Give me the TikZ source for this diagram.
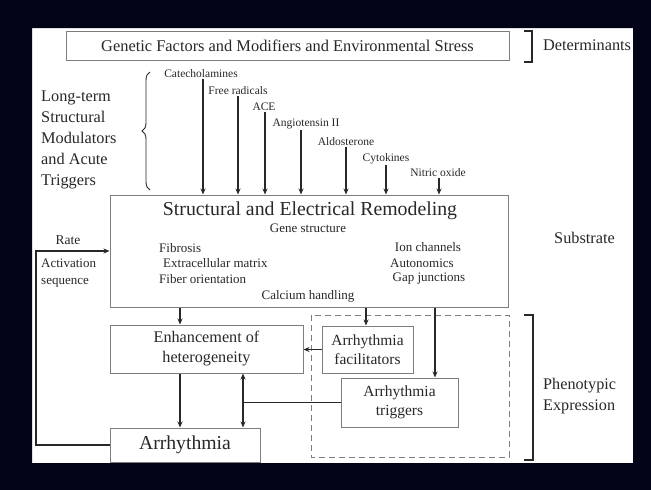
\documentclass[tikz,border=0pt]{standalone}
\usepackage{fontspec}
\setmainfont{Liberation Serif}
\usetikzlibrary{arrows.meta,decorations.pathreplacing}
\definecolor{framecol}{RGB}{2,3,22}
\definecolor{boxgray}{RGB}{125,125,125}
\definecolor{ink}{RGB}{40,40,40}
\begin{document}
\begin{tikzpicture}[x=1pt,y=-1pt,
  boxnode/.style={draw=boxgray, line width=1pt, inner sep=0pt, align=center},
  lbl/.style={inner sep=1pt, text=ink, font=\fontsize{11.5}{13}\selectfont},
  inlbl/.style={inner sep=1pt, text=ink, font=\fontsize{13}{15}\selectfont},
  midlbl/.style={inner sep=1pt, text=ink, font=\fontsize{16.3}{20}\selectfont},
  biglbl/.style={inner sep=1pt, text=ink, font=\fontsize{19.8}{23}\selectfont},
  arr/.style={draw=ink, line width=1.3pt, -{Stealth[length=6pt,width=5pt]}},
  plain/.style={draw=ink, line width=1.3pt},
  bracketline/.style={draw=ink, line width=1.6pt},
]
\useasboundingbox (0,0) rectangle (651,490);
\fill[white] (0,0) rectangle (651,490);

% top box
\node[boxnode, minimum width=443pt, minimum height=29pt, font=\fontsize{16.4}{19}\selectfont, text=ink] (gen) at (287.5,45.5) {Genetic Factors and Modifiers and Environmental Stress};
\draw[bracketline] (524,31) -- (532,31) -- (532,62) -- (524,62);
\node[midlbl, anchor=west] (det) at (542,45) {Determinants};

% left text and brace
\node[midlbl, anchor=west, align=left, font=\fontsize{16.3}{21.2}\selectfont] (lt) at (40,140) {Long-term\\Structural\\Modulators\\and Acute\\Triggers};
\draw[draw=ink, line width=0.9pt, decorate, decoration={brace, amplitude=8pt}] (150,190) -- (150,72);

% main box
\node[boxnode, minimum width=398pt, minimum height=112pt] (main) at (309,251) {};
\node[biglbl] (title) at (310,211) {Structural and Electrical Remodeling};
\node[inlbl] (gene) at (308,228) {Gene structure};
\node[inlbl, anchor=west] (fib) at (158,248) {Fibrosis};
\node[inlbl, anchor=west] (ecm) at (162,263) {Extracellular matrix};
\node[inlbl, anchor=west] (fo) at (158,279) {Fiber orientation};
\node[inlbl] (ca) at (308,296) {Calcium handling};
\node[inlbl] (ion) at (428,247) {Ion channels};
\node[inlbl] (auto) at (422,263) {Autonomics};
\node[inlbl] (gap) at (429,279) {Gap junctions};
\node[midlbl, anchor=west] (sub) at (553,238) {Substrate};

% modulators
\node[lbl] (cat) at (201,74) {Catecholamines};
\node[lbl] (fr) at (238,91) {Free radicals};
\node[lbl] (ace) at (264,107) {ACE};
\node[lbl] (ang) at (306,124) {Angiotensin II};
\node[lbl] (ald) at (346,142) {Aldosterone};
\node[lbl] (cyt) at (386,159) {Cytokines};
\node[lbl] (no) at (438,173) {Nitric oxide};
\foreach \n/\s in {cat/2, fr/0, ace/1, ang/-5, ald/0, cyt/0, no/1}{
  \draw[arr] ([xshift=\s pt]\n.south) -- ([xshift=\s pt]\n.south |- main.north);
}

% rate / activation feedback
\node[inlbl, font=\fontsize{13.5}{15}\selectfont] (rate) at (68,240) {Rate};
\node[inlbl, anchor=west, align=left, font=\fontsize{13}{17}\selectfont] (act) at (40,273.5) {Activation\\sequence};

% lower boxes
\node[boxnode, minimum width=193pt, minimum height=48pt, font=\fontsize{16.2}{20}\selectfont, text=ink] (enh) at (206.5,349) {Enhancement of\\heterogeneity};
\node[boxnode, minimum width=150pt, minimum height=34pt, font=\fontsize{19.7}{23}\selectfont, text=ink] (arrh) at (185,445) {Arrhythmia};
\draw[boxgray, line width=1pt, dash pattern=on 6pt off 4pt] (311,315) rectangle (509,457);
\node[boxnode, fill=white, minimum width=91pt, minimum height=47pt, font=\fontsize{15.5}{19}\selectfont, text=ink] (fac) at (367.5,349.5) {Arrhythmia\\facilitators};
\node[boxnode, fill=white, minimum width=117pt, minimum height=49pt, font=\fontsize{15.5}{19}\selectfont, text=ink] (trig) at (399.5,402.5) {Arrhythmia\\triggers};

\draw[bracketline] (524,315) -- (533,315) -- (533,460) -- (524,460);
\node[midlbl, anchor=west, align=left, font=\fontsize{16.2}{21}\selectfont] (phe) at (542,396.5) {Phenotypic\\Expression};

% connectors
\coordinate (xa) at (180,0);
\coordinate (xf) at (366,0);
\coordinate (xt) at (435,0);
\coordinate (fb) at (36,251);
\coordinate (jn) at (243,402.5);
\draw[arr] (xa |- main.south) -- (xa |- enh.north);
\draw[arr] (xa |- enh.south) -- (xa |- arrh.north);
\draw[arr] (xf |- main.south) -- (xf |- fac.north);
\draw[arr] (xt |- main.south) -- (xt |- trig.north);
\draw[arr] (fac.west) -- (fac.west -| enh.east);
\draw[plain] (trig.west) -- (jn);
\draw[arr] (jn) -- (jn |- enh.south);
\draw[arr] (jn) -- (jn |- arrh.north);
\draw[arr] (arrh.west) -| (fb) -- (fb -| main.west);

% black frame
\fill[framecol, even odd rule] (0,0) rectangle (651,490) (32,28) rectangle (633,463);
\end{tikzpicture}
\end{document}
